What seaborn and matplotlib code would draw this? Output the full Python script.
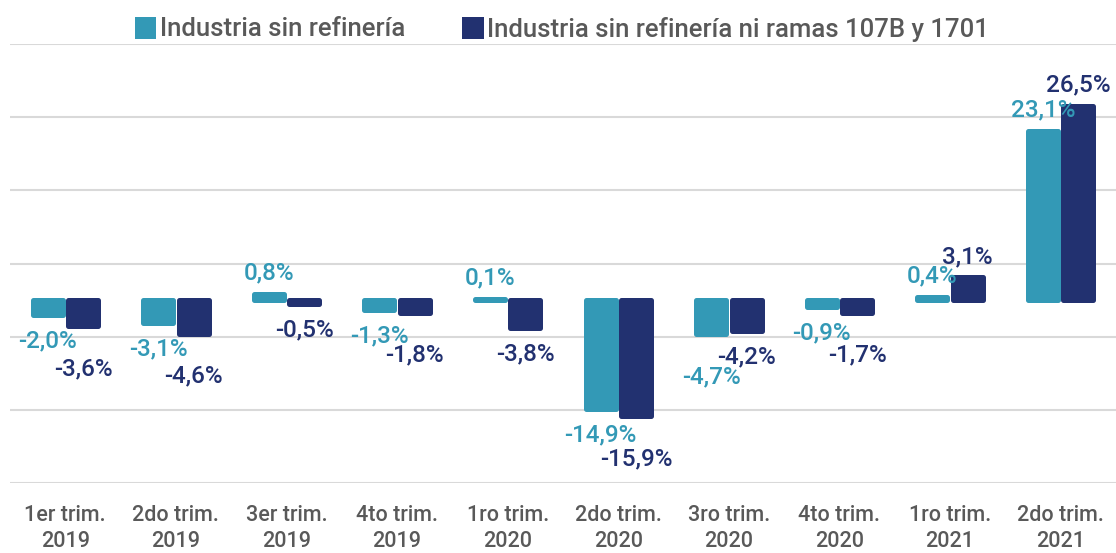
import pandas as pd
import matplotlib.pyplot as plt
import seaborn as sns

# Data
quarters = ["1er trim.\n2019", "2do trim.\n2019", "3er trim.\n2019", "4to trim.\n2019",
            "1ro trim.\n2020", "2do trim.\n2020", "3ro trim.\n2020", "4to trim.\n2020",
            "1ro trim.\n2021", "2do trim.\n2021"]
series_names = ["Industria sin refinería", "Industria sin refinería ni ramas 107B y 1701"]
sin_refineria = [-2.0, -3.1, 0.8, -1.3, 0.1, -14.9, -4.7, -0.9, 0.4, 23.1]
sin_refineria_ramas = [-3.6, -4.6, -0.5, -1.8, -3.8, -15.9, -4.2, -1.7, 3.1, 26.5]

colors = ["#3399B6", "#223170"]
text_gray = "#595959"

df = pd.DataFrame({
    "quarter": quarters * 2,
    "serie": [series_names[0]] * len(quarters) + [series_names[1]] * len(quarters),
    "value": sin_refineria + sin_refineria_ramas,
})

sns.set_theme(style="whitegrid")
plt.rcParams["font.family"] = ["Roboto", "DejaVu Sans"]

fig = plt.figure(figsize=(11.16, 5.53), dpi=100)
ax = fig.add_axes([10 / 1116, 70 / 553, 1106 / 1116, 439 / 553])

sns.barplot(data=df, x="quarter", y="value", hue="serie", palette=colors,
            saturation=1, width=0.64, gap=0.15, ax=ax)

# rounded bar look: thick stroke in the same colour with round joins
for p in ax.patches:
    p.set_edgecolor(p.get_facecolor())
    p.set_linewidth(3.6)
    p.set_joinstyle("round")

ax.set_ylim(-25, 35)
ax.set_yticks([-25, -15, -5, 5, 15, 25, 35])
ax.set_yticklabels([])
ax.grid(axis="y", color="#D9D9D9", linewidth=1.5)
ax.grid(axis="x", visible=False)
ax.set_axisbelow(True)
for s in ax.spines.values():
    s.set_visible(False)
ax.set_xlabel("")
ax.set_ylabel("")
ax.tick_params(axis="x", length=0, pad=16, labelsize=15.5, labelcolor=text_gray)
ax.tick_params(axis="y", length=0)
for t in ax.get_xticklabels():
    t.set_linespacing(1.3)
    t.set_fontweight("medium")

# data labels
vals = [sin_refineria, sin_refineria_ramas]
for k, cont in enumerate(ax.containers):
    for i, bar in enumerate(cont):
        v = vals[k][i]
        other = vals[1 - k][i]
        xc = bar.get_x() + bar.get_width() / 2
        if v >= 0:
            off = 21
        elif other < 0 and abs(v) > abs(other):
            off = -42
        else:
            off = -26
        ax.annotate(f"{v:.1f}%".replace(".", ","), (xc, v), xytext=(0, off),
                    textcoords="offset pixels", ha="center", va="center",
                    fontsize=17.5, fontweight="medium", color=colors[k])

handles, labels = ax.get_legend_handles_labels()
leg = ax.legend(handles, labels, loc="center", bbox_to_anchor=(0.5, 1 + 15 / 439), ncol=2,
                frameon=False, fontsize=18.5, labelcolor=text_gray, handlelength=0.65,
                handleheight=0.65, handletextpad=0.25, columnspacing=2.3, borderaxespad=0)
for t in leg.get_texts():
    t.set_fontweight("medium")

plt.savefig("out.png", dpi=100)
